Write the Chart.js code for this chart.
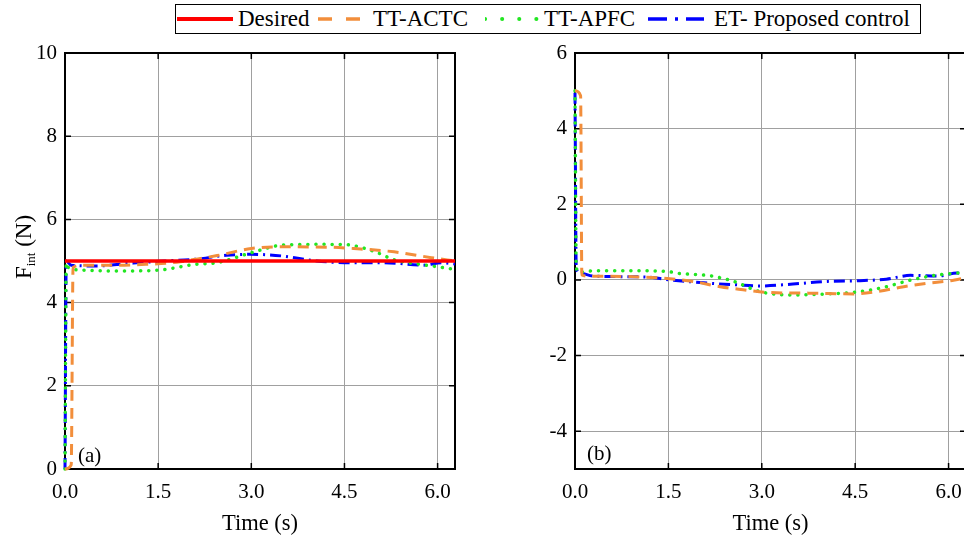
<!DOCTYPE html>
<html>
<head>
<meta charset="utf-8">
<script src="https://cdn.jsdelivr.net/npm/chart.js@4.4.1/dist/chart.umd.min.js"></script>
<style>
html, body { margin: 0; padding: 0; background: #fff; overflow: hidden; width: 964px; height: 544px; }
#left { position: absolute; left: 0; top: 0; }
#right { position: absolute; left: 480px; top: 0; }
#legend { position: absolute; left: 175px; top: 4px; width: 744px; height: 28px; border: 1px solid #000; background: #fff; font: 23px "Liberation Serif", serif; color: #000; }
.item { position: absolute; top: 0; height: 28px; display: flex; align-items: center; white-space: nowrap; }
</style>
</head>
<body>
<canvas id="left" width="480" height="544"></canvas>
<canvas id="right" width="520" height="544"></canvas>
<div id="legend"></div>
<script>
// series names, shared by both panels
const seriesNames = ['Desired', 'TT-ACTC', 'TT-APFC', 'ET- Proposed control'];

// ticks
const xTicks = [0, 1.5, 3.0, 4.5, 6.0];
const yTicksA = [0, 2, 4, 6, 8, 10];
const yTicksB = [-4, -2, 0, 2, 4, 6];

// (a) interaction force F_int
const tDesA = [0, 6.28];
const fDesA = [5, 5];
const tActcA = [0, 0.1, 0.13, 0.3, 0.8, 1.3, 1.8, 2.1, 2.45, 3.0, 3.5, 4.3, 4.65, 5.3, 5.9, 6.28];
const fActcA = [0, 0.1, 4.85, 4.9, 4.9, 4.92, 4.97, 5.04, 5.13, 5.3, 5.34, 5.33, 5.3, 5.22, 5.08, 5.0];
const tApfcA = [0, 0.02, 0.05, 0.3, 0.9, 1.5, 2.1, 2.45, 3.0, 3.5, 4.1, 4.55, 4.76, 5.0, 5.3, 5.67, 6.0, 6.28];
const fApfcA = [0, 4.95, 4.85, 4.78, 4.76, 4.78, 4.92, 4.96, 5.2, 5.38, 5.4, 5.39, 5.33, 5.22, 5.03, 4.93, 4.86, 4.8];
const tEtA = [0, 0.02, 0.1, 0.5, 1.1, 1.6, 2.15, 2.6, 3.0, 3.5, 4.05, 4.6, 5.14, 5.77, 6.06, 6.28];
const fEtA = [0, 5.0, 4.9, 4.88, 4.95, 5.0, 5.05, 5.14, 5.16, 5.12, 5.0, 4.96, 4.96, 4.9, 4.96, 4.93];

// (b) force error e_f
const tActcB = [0, 0.09, 0.11, 0.2, 0.8, 1.4, 1.9, 2.33, 2.7, 3.08, 3.77, 4.47, 4.85, 5.28, 5.65, 6.03, 6.28];
const eActcB = [5.0, 4.87, 0.13, 0.1, 0.09, 0.05, -0.04, -0.18, -0.26, -0.33, -0.35, -0.37, -0.31, -0.18, -0.09, -0.02, 0.06];
const tApfcB = [0, 0.02, 0.05, 0.3, 1.0, 1.5, 1.63, 2.2, 2.55, 2.97, 3.5, 4.05, 4.47, 4.77, 5.0, 5.4, 5.82, 6.28];
const eApfcB = [5.0, 0.4, 0.2, 0.24, 0.24, 0.22, 0.18, 0.1, -0.04, -0.31, -0.4, -0.37, -0.33, -0.26, -0.18, 0.0, 0.13, 0.2];
const tEtB = [0, 0.02, 0.08, 0.3, 1.1, 1.53, 2.17, 2.6, 2.97, 3.5, 4.05, 4.58, 5.0, 5.39, 5.82, 6.14, 6.28];
const eEtB = [4.95, 0.3, 0.18, 0.1, 0.08, 0.0, -0.09, -0.13, -0.16, -0.11, -0.04, -0.02, 0.02, 0.12, 0.1, 0.18, 0.15];

const FONT = '"Liberation Serif", "Times New Roman", serif';
const styles = [
  { color: '#ff0000', width: 3.5, dash: [], cap: 'butt', legendDash: 'none' },
  { color: '#f28e3b', width: 3, dash: [11, 7], cap: 'butt', legendDash: '14,14' },
  { color: '#22e622', width: 3.5, dash: [0.1, 8], cap: 'round', legendDash: '0.1,17' },
  { color: '#0000ff', width: 3, dash: [11, 5, 2, 5], cap: 'butt', legendDash: '19,8,3,8' }
];

const pts = (t, v) => t.map((x, i) => ({ x, y: v[i] }));

function ds(i, t, v) {
  const s = styles[i];
  return {
    label: seriesNames[i],
    data: pts(t, v),
    borderColor: s.color,
    borderWidth: s.width,
    borderDash: s.dash,
    borderCapStyle: s.cap,
    pointRadius: 0,
    cubicInterpolationMode: 'monotone',
    clip: 4
  };
}

// black box round the plot with small inward ticks
const framePlugin = {
  id: 'frame',
  beforeDatasetsDraw(chart) {
    const { ctx, chartArea: a, scales } = chart;
    ctx.save();
    ctx.strokeStyle = '#000';
    ctx.lineWidth = 2;
    ctx.strokeRect(a.left, a.top, a.right - a.left, a.bottom - a.top);
    ctx.lineWidth = 1.5;
    ctx.beginPath();
    scales.y.ticks.forEach(tk => {
      const y = scales.y.getPixelForValue(tk.value);
      ctx.moveTo(a.right, y); ctx.lineTo(a.right - 6, y);
      ctx.moveTo(a.left, y); ctx.lineTo(a.left + 6, y);
    });
    scales.x.ticks.forEach(tk => {
      const x = scales.x.getPixelForValue(tk.value);
      ctx.moveTo(x, a.top); ctx.lineTo(x, a.top + 6);
      ctx.moveTo(x, a.bottom); ctx.lineTo(x, a.bottom - 6);
    });
    ctx.stroke();
    ctx.restore();
  }
};

// y title with subscript + panel tag
function textPlugin(main, sub, tail, titleX, titleY, tag, tagX, tagY) {
  return {
    id: 'texts',
    afterDraw(chart) {
      const ctx = chart.ctx;
      ctx.save();
      ctx.fillStyle = '#000';
      ctx.textBaseline = 'alphabetic';
      const big = '23px ' + FONT, small = '13px ' + FONT;
      ctx.font = big; const w1 = ctx.measureText(main).width; const w3 = ctx.measureText(tail).width;
      ctx.font = small; const w2 = ctx.measureText(sub).width;
      const total = w1 + w2 + w3;
      ctx.translate(titleX, titleY);
      ctx.rotate(-Math.PI / 2);
      let x = -total / 2;
      ctx.font = big; ctx.fillText(main, x, 0); x += w1;
      ctx.font = small; ctx.fillText(sub, x, 4); x += w2;
      ctx.font = big; ctx.fillText(tail, x, 0);
      ctx.restore();
      ctx.save();
      ctx.font = '21px ' + FONT;
      ctx.fillStyle = '#000';
      ctx.fillText(tag, tagX, tagY);
      ctx.restore();
    }
  };
}

function makeChart(id, datasets, yMin, yMax, yTicks, yWidth, padRight, extra) {
  return new Chart(document.getElementById(id), {
    type: 'line',
    data: { datasets },
    options: {
      responsive: false,
      animation: false,
      layout: { padding: { left: 0, top: 53, right: padRight, bottom: 0 } },
      plugins: { legend: { display: false }, tooltip: { enabled: false } },
      scales: {
        x: {
          type: 'linear', min: 0, max: 6.28,
          afterBuildTicks: s => { s.ticks = xTicks.map(v => ({ value: v })); },
          afterFit: s => { s.height = 75; },
          grid: { color: '#a0a0a0', lineWidth: 1, drawTicks: false },
          border: { color: '#000', width: 2 },
          ticks: { color: '#000', padding: 11, font: { family: FONT, size: 21 }, callback: v => Number(v).toFixed(1) },
          title: { display: true, text: 'Time (s)', color: '#000', font: { family: FONT, size: 22.5 }, padding: { top: 0, bottom: 6 } }
        },
        y: {
          type: 'linear', min: yMin, max: yMax,
          afterBuildTicks: s => { s.ticks = yTicks.map(v => ({ value: v })); },
          afterFit: s => { s.width = yWidth; },
          grid: { color: '#a0a0a0', lineWidth: 1, drawTicks: false },
          border: { color: '#000', width: 2 },
          ticks: { color: '#000', padding: 8, font: { family: FONT, size: 21 }, callback: v => String(v) }
        }
      }
    },
    plugins: [framePlugin, extra]
  });
}

const chartA = makeChart('left', [
  ds(0, tDesA, fDesA),
  ds(1, tActcA, fActcA),
  ds(2, tApfcA, fApfcA),
  ds(3, tEtA, fEtA)
], 0, 10, yTicksA, 65, 25, textPlugin('F', 'int', ' (N)', 31, 247, '(a)', 78, 462));

const chartB = makeChart('right', [
  ds(1, tActcB, eActcB),
  ds(2, tApfcB, eApfcB),
  ds(3, tEtB, eEtB)
], -5, 6, yTicksB, 95, 34, textPlugin('e', 'f', ' (N)', 537, 262, '(b)', 107, 460));

// legend built from the series styles: [sample start, sample end, text start]
const legendPos = [[1, 57, 62], [142, 186, 197], [309, 366, 368], [472, 528, 538]];
const legend = document.getElementById('legend');
seriesNames.forEach((name, i) => {
  const s = styles[i];
  const [a, b, c] = legendPos[i];
  const w = b - a;
  const item = document.createElement('div');
  item.className = 'item';
  item.style.left = a + 'px';
  item.innerHTML = '<svg width="' + w + '" height="10" style="margin-right:' + (c - b) + 'px"><line x1="0" y1="5" x2="' + w +
    '" y2="5" stroke="' + s.color + '" stroke-width="' + (s.width + 0.5) + '" stroke-linecap="' + s.cap +
    '" stroke-dasharray="' + s.legendDash + '"/></svg><span>' + name + '</span>';
  legend.appendChild(item);
});
</script>
</body>
</html>
